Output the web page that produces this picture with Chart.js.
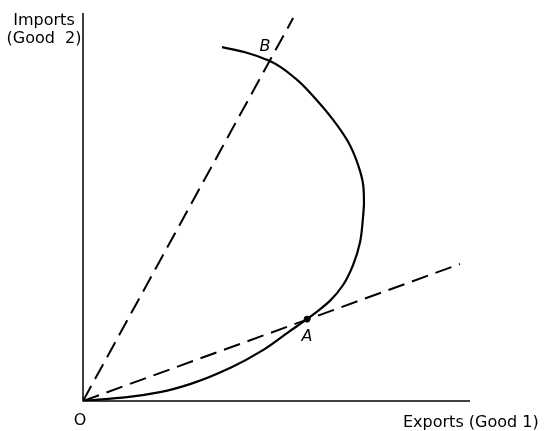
<!DOCTYPE html>
<html>
<head>
<meta charset="utf-8">
<script src="https://cdn.jsdelivr.net/npm/chart.js@4"></script>
<style>
  html, body { margin: 0; padding: 0; background: #fff; }
  canvas { display: block; }
</style>
</head>
<body>
<canvas id="offerChart" width="547" height="431"></canvas>
<script>
// offer curve (x = exports, y = imports, 0..10)
const curveX = [0, 1.14, 1.99, 2.84, 3.80, 4.65, 5.30, 5.79, 6.03, 6.38, 6.72, 6.98, 7.16, 7.24, 7.26, 7.24, 7.11, 6.85, 6.43, 5.99, 5.48, 4.83, 4.19, 3.59];
const curveY = [0, 0.10, 0.23, 0.46, 0.85, 1.31, 1.77, 2.11, 2.29, 2.58, 2.99, 3.51, 4.10, 4.79, 5.10, 5.57, 6.08, 6.68, 7.29, 7.81, 8.32, 8.76, 8.99, 9.12];

// dashed price lines from the origin
const rayAX = [0, 9.74];
const rayAY = [0, 3.53];
const rayBX = [0, 5.43];
const rayBY = [0, 9.87];

// marked points
const pointA = [5.79, 2.11];
const pointB = [4.83, 8.76];

const axisMax = 10;
const font = '"DejaVu Sans", sans-serif';

const toXY = (xs, ys) => xs.map((x, i) => ({ x: x, y: ys[i] }));

// axes, axis titles and point labels
const decorations = {
    id: 'decorations',
    afterDatasetsDraw(chart) {
        const ctx = chart.ctx;
        const sx = chart.scales.x;
        const sy = chart.scales.y;
        const x0 = sx.getPixelForValue(0);
        const y0 = sy.getPixelForValue(0);

        ctx.save();
        ctx.strokeStyle = '#000';
        ctx.lineWidth = 1.5;
        ctx.beginPath();
        ctx.moveTo(x0, sy.getPixelForValue(axisMax));
        ctx.lineTo(x0, y0);
        ctx.lineTo(sx.getPixelForValue(axisMax), y0);
        ctx.stroke();

        ctx.fillStyle = '#000';
        ctx.font = '16px ' + font;
        ctx.textAlign = 'center';
        ctx.textBaseline = 'alphabetic';
        ctx.fillText('Imports', 44, 25);
        ctx.fillText('(Good  2)', 44, 43);
        ctx.fillText('O', x0 - 3, y0 + 24);
        ctx.textAlign = 'left';
        ctx.fillText('Exports (Good 1)', 403, 427);

        ctx.font = 'italic 16px ' + font;
        ctx.textAlign = 'center';
        ctx.fillText('A', sx.getPixelForValue(pointA[0]), sy.getPixelForValue(pointA[1]) + 22);
        ctx.fillText('B', sx.getPixelForValue(pointB[0]) - 5, sy.getPixelForValue(pointB[1]) - 10);
        ctx.restore();
    }
};

new Chart(document.getElementById('offerChart'), {
    type: 'scatter',
    data: {
        datasets: [
            {
                // curve rises steadily in imports, so interpolate along y
                data: toXY(curveX, curveY),
                indexAxis: 'y',
                showLine: true,
                borderColor: '#000',
                borderWidth: 2.2,
                cubicInterpolationMode: 'monotone',
                pointRadius: 0
            },
            {
                data: toXY(rayAX, rayAY),
                showLine: true,
                borderColor: '#000',
                borderWidth: 2,
                borderDash: [17, 8],
                pointRadius: 0
            },
            {
                data: toXY(rayBX, rayBY),
                showLine: true,
                borderColor: '#000',
                borderWidth: 2,
                borderDash: [17, 8],
                pointRadius: 0
            },
            {
                data: [{ x: pointA[0], y: pointA[1] }],
                pointRadius: 3,
                pointBackgroundColor: '#000',
                pointBorderColor: '#000'
            }
        ]
    },
    options: {
        responsive: false,
        animation: false,
        layout: { padding: { left: 83, right: 77, top: 13, bottom: 30 } },
        plugins: {
            legend: { display: false },
            tooltip: { enabled: false }
        },
        scales: {
            x: { display: false, min: 0, max: axisMax },
            y: { display: false, min: 0, max: axisMax }
        }
    },
    plugins: [decorations]
});
</script>
</body>
</html>
